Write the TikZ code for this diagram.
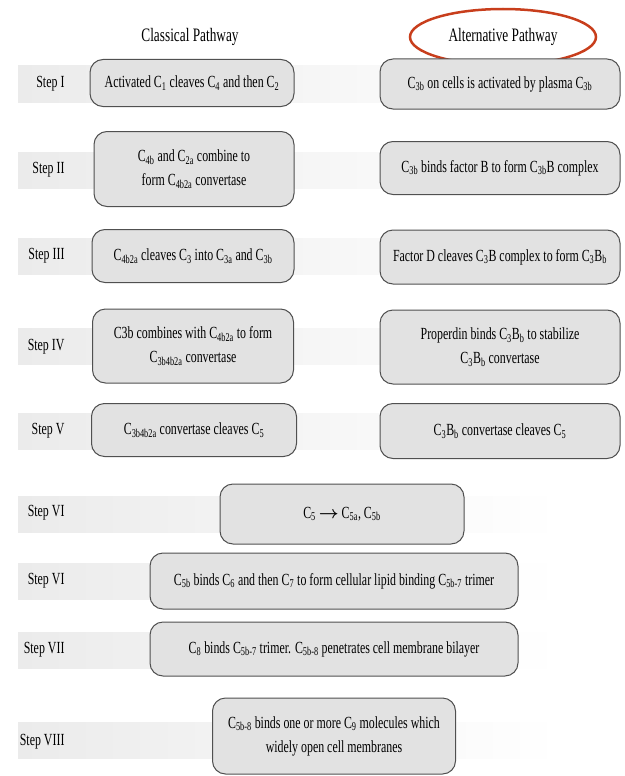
\documentclass[tikz,border=0pt]{standalone}
\usepackage{amsmath}
\usepackage{fontspec}
\setmainfont[FakeStretch=0.7]{Liberation Serif}
\newcommand{\sbs}[1]{\textsubscript{#1}}
\definecolor{boxfill}{RGB}{226,226,226}
\definecolor{boxline}{RGB}{80,80,80}
\definecolor{bandgray}{RGB}{235,235,235}
\definecolor{ringred}{RGB}{200,62,28}

\begin{document}
\begin{tikzpicture}[x=1pt,y=-1pt,
	stepbox/.style={draw=boxline,fill=boxfill,line width=1pt,rounded corners=13pt,align=center,inner sep=2pt,font=\fontsize{17}{24}\selectfont},
	steplabel/.style={anchor=east,font=\fontsize{17}{20}\selectfont},
	band/.style={left color=bandgray,right color=white,draw=none}]
	\useasboundingbox (0,0) rectangle (624,776);

	% grey bands behind the rows
	\foreach \y in {84,170,256,346,431,514,581,650,740}
		\shade[band] (18,\y-18) rectangle (560,\y+18);

	\draw (190,37) node[font=\fontsize{19}{22}\selectfont] (classical){Classical Pathway};
	\draw (503,37) node[font=\fontsize{19}{22}\selectfont] (alternative){Alternative Pathway};
	\draw[ringred,line width=2.5pt] (alternative) ellipse [x radius=93, y radius=28];

	\draw (68,84) node[steplabel] (s1){Step I};
	\draw (68,170) node[steplabel] (s2){Step II};
	\draw (68,256) node[steplabel] (s3){Step III};
	\draw (68,347) node[steplabel] (s4){Step IV};
	\draw (68,431) node[steplabel] (s5){Step V};
	\draw (68,513) node[steplabel] (s6){Step VI};
	\draw (68,581) node[steplabel] (s6b){Step VI};
	\draw (68,650) node[steplabel] (s7){Step VII};
	\draw (68,742) node[steplabel] (s8){Step VIII};

	\draw (192,83) node[stepbox,minimum width=204pt,minimum height=47pt] (c1){Activated C\sbs{1} cleaves C\sbs{4} and then C\sbs{2}};
	\draw (194,169) node[stepbox,minimum width=200pt,minimum height=75pt] (c2){C\sbs{4b} and C\sbs{2a} combine to\\form C\sbs{4b2a} convertase};
	\draw (193,256) node[stepbox,minimum width=202pt,minimum height=53pt] (c3){C\sbs{4b2a} cleaves C\sbs{3} into C\sbs{3a} and C\sbs{3b}};
	\draw (193,346) node[stepbox,minimum width=201pt,minimum height=74pt] (c4){C3b combines with C\sbs{4b2a} to form\\C\sbs{3b4b2a} convertase};
	\draw (194,430) node[stepbox,minimum width=205pt,minimum height=53pt] (c5){C\sbs{3b4b2a} convertase cleaves C\sbs{5}};

	\draw (500,84) node[stepbox,minimum width=240pt,minimum height=50pt] (a1){C\sbs{3b} on cells is activated by plasma C\sbs{3b}};
	\draw (500,168) node[stepbox,minimum width=240pt,minimum height=53pt] (a2){C\sbs{3b} binds factor B to form C\sbs{3b}B complex};
	\draw (500,257) node[stepbox,minimum width=240pt,minimum height=54pt] (a3){Factor D cleaves C\sbs{3}B complex to form C\sbs{3}B\sbs{b}};
	\draw (500,347) node[stepbox,minimum width=240pt,minimum height=74pt] (a4){Properdin binds C\sbs{3}B\sbs{b} to stabilize\\C\sbs{3}B\sbs{b} convertase};
	\draw (500,431) node[stepbox,minimum width=240pt,minimum height=55pt] (a5){C\sbs{3}B\sbs{b} convertase cleaves C\sbs{5}};

	\draw (342,514) node[stepbox,minimum width=244pt,minimum height=60pt] (m6){C\sbs{5} $\boldsymbol{\rightarrow}$ C\sbs{5a}, C\sbs{5b}};
	\draw (334,581) node[stepbox,minimum width=368pt,minimum height=56pt] (m6b){C\sbs{5b} binds C\sbs{6} and then C\sbs{7} to form cellular lipid binding C\sbs{5b-7} trimer};
	\draw (334,649) node[stepbox,minimum width=368pt,minimum height=54pt] (m7){C\sbs{8} binds C\sbs{5b-7} trimer. C\sbs{5b-8} penetrates cell membrane bilayer};
	\draw (334,736) node[stepbox,minimum width=243pt,minimum height=76pt] (m8){C\sbs{5b-8} binds one or more C\sbs{9} molecules which\\widely open cell membranes};
\end{tikzpicture}
\end{document}
